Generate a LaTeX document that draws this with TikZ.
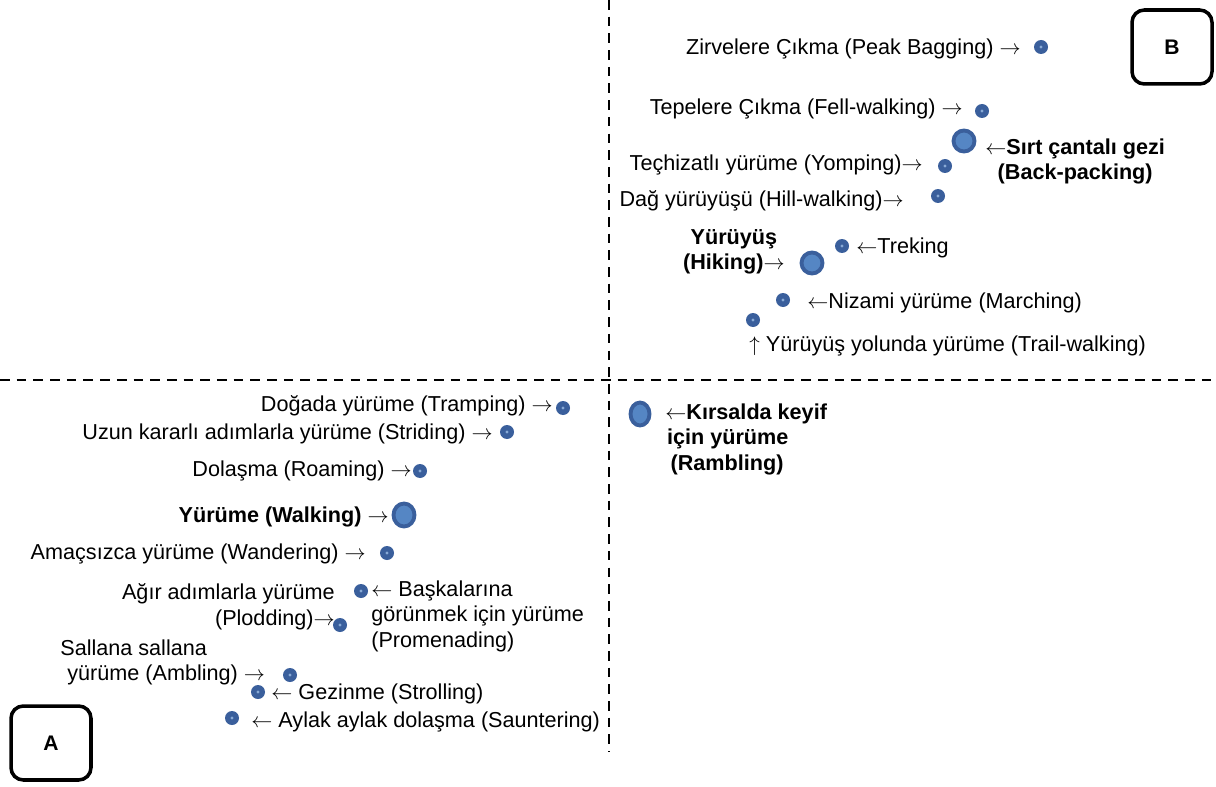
\documentclass[tikz,border=0pt]{standalone}
\usepackage{fontspec}
\setmainfont{Liberation Sans}
\usetikzlibrary{shapes.geometric,positioning}
\definecolor{dotdark}{HTML}{3A5F9C}
\definecolor{dotlight}{HTML}{5586C4}

\begin{document}
\begin{tikzpicture}[x=0.02cm,y=-0.02cm,
  lbl/.style={inner sep=0pt,yshift=-1pt,font=\fontsize{12.3}{14.3}\selectfont},
  blbl/.style={inner sep=0pt,yshift=-1pt,font=\fontsize{12.3}{14.3}\selectfont\bfseries},
  dot/.style={circle,fill=dotdark,minimum size=0.28cm,inner sep=0pt,
    path picture={\fill[dotlight!70!white] (path picture bounding box.center) circle (0.9pt);}},
  bigdot/.style={ellipse,fill=dotlight,draw=dotdark,line width=2.2pt,
    minimum width=0.42cm,minimum height=0.42cm,inner sep=0pt},
  corner/.style={draw,rounded corners=7pt,line width=2pt,minimum width=1.6cm,
    minimum height=1.48cm,font=\fontsize{12}{14}\selectfont\bfseries},
  axis/.style={line width=1.4pt,dash pattern=on 5.5pt off 4pt},
]
  \useasboundingbox (0,0) rectangle (1216,787);
  \coordinate (yt) at (609,0);
  \coordinate (yb) at (609,752);
  \coordinate (xl) at (0,380);
  \coordinate (xr) at (1216,380);
  \draw[axis] (yt) -- (yb);
  \draw[axis] (xl) -- (xr);

  \node[corner] (a) at (51,743) {A};
  \node[corner] (b) at (1172,47) {B};

  \node[dot] (peakdot) at (1041,47) {};
  \node[dot] (felldot) at (982,111) {};
  \node[bigdot] (backdot) at (964,141) {};
  \node[dot] (yompdot) at (945,166) {};
  \node[dot] (hilldot) at (938,196) {};
  \node[dot] (trekdot) at (842,246) {};
  \node[bigdot] (hikedot) at (812,263) {};
  \node[dot] (marchdot) at (783,300) {};
  \node[dot] (traildot) at (753,320) {};
  \node[bigdot,minimum width=0.38cm,minimum height=0.46cm] (rambledot) at (640,414) {};
  \node[dot] (trampdot) at (563,408) {};
  \node[dot] (stridedot) at (507,432) {};
  \node[dot] (roamdot) at (420,471) {};
  \node[bigdot,minimum height=0.46cm] (walkdot) at (404,515) {};
  \node[dot] (wanderdot) at (387,553) {};
  \node[dot] (promdot) at (361,591) {};
  \node[dot] (ploddot) at (340,625) {};
  \node[dot] (ambledot) at (290,675) {};
  \node[dot] (strolldot) at (258,692) {};
  \node[dot] (sauntdot) at (232,718) {};

  \node[lbl,anchor=east] (peak) at (1021,47) {Zirvelere Çıkma (Peak Bagging) $\rightarrow$};
  \node[lbl,anchor=east] (fell) at (963,107) {Tepelere Çıkma (Fell-walking) $\rightarrow$};
  \node[blbl,anchor=west,align=center] (back) at (985,160) {$\leftarrow$Sırt çantalı gezi\\(Back-packing)};
  \node[lbl,anchor=east] (yomp) at (923,163) {Teçhizatlı yürüme (Yomping)$\rightarrow$};
  \node[lbl,anchor=east] (hill) at (904,199) {Dağ yürüyüşü (Hill-walking)$\rightarrow$};
  \node[blbl,anchor=east,align=center] (hike) at (785,250) {Yürüyüş\\(Hiking)$\rightarrow$};
  \node[lbl,anchor=west] (trek) at (856,246) {$\leftarrow$Treking};
  \node[lbl,anchor=west] (march) at (807,301) {$\leftarrow$Nizami yürüme (Marching)};
  \node[lbl,anchor=west] (trail) at (749,344) {$\uparrow$ Yürüyüş yolunda yürüme (Trail-walking)};
  \node[blbl,anchor=north west,align=left] (ramble) at (665,402) {$\leftarrow$Kırsalda keyif\\\hspace*{1pt}için yürüme\\\hspace*{3pt}(Rambling)};

  \node[lbl,anchor=east] (tramp) at (553,404) {Doğada yürüme (Tramping) $\rightarrow$};
  \node[lbl,anchor=east] (stride) at (493,432) {Uzun kararlı adımlarla yürüme (Striding) $\rightarrow$};
  \node[lbl,anchor=east] (roam) at (412,469) {Dolaşma (Roaming) $\rightarrow$};
  \node[blbl,anchor=east] (walk) at (389,515) {Yürüme (Walking) $\rightarrow$};
  \node[lbl,anchor=east] (wander) at (366,552) {Amaçsızca yürüme (Wandering) $\rightarrow$};
  \node[lbl,anchor=east,align=right] (plod) at (335,605) {Ağır adımlarla yürüme\\(Plodding)$\rightarrow$};
  \node[lbl,anchor=north west,align=left] (prom) at (371,579) {$\leftarrow$ Başkalarına\\görünmek için yürüme\\(Promenading)};
  \node[lbl,anchor=west,align=left] (amble) at (60,661) {Sallana sallana\\\hspace*{4pt}yürüme (Ambling) $\rightarrow$};
  \node[lbl,anchor=west] (stroll) at (271,692) {$\leftarrow$ Gezinme (Strolling)};
  \node[lbl,anchor=west] (saunt) at (251,720) {$\leftarrow$ Aylak aylak dolaşma (Sauntering)};
\end{tikzpicture}
\end{document}
